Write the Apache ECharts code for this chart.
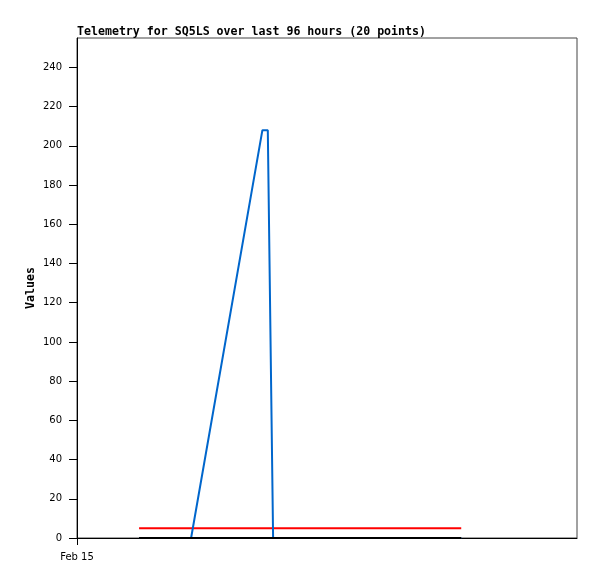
<!DOCTYPE html>
<html>
<head>
<meta charset="utf-8">
<title>Telemetry</title>
<script src="https://cdn.jsdelivr.net/npm/echarts@6/dist/echarts.min.js"></script>
<style>
	html, body { margin: 0; padding: 0; background: #fff; }
	#main { width: 597px; height: 579px; }
</style>
</head>
<body>
<div id="main"></div>
<script>
	// hours since Feb 15 00:00
	var blueHours = [18.5, 34.0, 55.25, 56.86, 58.44, 114.5];
	var blueValues = [0, 0, 208, 208, 0, 0];
	var redHours = [18.5, 114.5];
	var redValues = [5, 5];
	var blackHours = [18.5, 114.5];
	var blackValues = [0, 0];
	var yTicks = [0, 20, 40, 60, 80, 100, 120, 140, 160, 180, 200, 220, 240];
	var xTickHours = [0];
	var xTickLabels = ["Feb 15"];

	function pairs(xs, ys) {
		var out = [];
		for (let i = 0; i < xs.length; i++) {
			out.push([xs[i], ys[i]]);
		}
		return out;
	}

	var option = {
		animation: false,
		title: {
			text: "Telemetry for SQ5LS over last 96 hours (20 points)",
			left: 72,
			top: 21,
			textStyle: {
				fontFamily: "DejaVu Sans Mono",
				fontWeight: "bold",
				fontSize: 11.6,
				color: "#000"
			}
		},
		grid: {
			left: 77,
			right: 20,
			top: 38,
			bottom: 41,
			show: true,
			borderColor: "#444",
			borderWidth: 1,
			backgroundColor: "#fff"
		},
		xAxis: {
			type: "value",
			min: 0,
			max: 149,
			splitLine: { show: false },
			axisLine: { show: true, lineStyle: { color: "#000", width: 1 } },
			axisTick: {
				show: true,
				length: 7,
				customValues: xTickHours,
				lineStyle: { color: "#000" }
			},
			axisLabel: {
				customValues: xTickHours,
				margin: 14,
				fontFamily: "DejaVu Sans",
				fontSize: 10,
				color: "#000",
				formatter: function (v) {
					var i = xTickHours.indexOf(v);
					return i >= 0 ? xTickLabels[i] : "";
				}
			}
		},
		yAxis: {
			type: "value",
			min: 0,
			max: 255,
			interval: 20,
			name: "Values",
			nameLocation: "middle",
			nameRotate: 90,
			nameGap: 40,
			nameMoveOverlap: false,
			nameTextStyle: {
				fontFamily: "DejaVu Sans Mono",
				fontWeight: "bold",
				fontSize: 11.6,
				color: "#000"
			},
			splitLine: { show: false },
			axisLine: { show: true, lineStyle: { color: "#000", width: 1 } },
			axisTick: {
				show: true,
				length: 8,
				customValues: yTicks,
				lineStyle: { color: "#000" }
			},
			axisLabel: {
				customValues: yTicks,
				margin: 15,
				fontFamily: "DejaVu Sans",
				fontSize: 10,
				color: "#000"
			}
		},
		series: [
			{
				name: "red",
				type: "line",
				showSymbol: false,
				data: pairs(redHours, redValues),
				lineStyle: { color: "#ff0000", width: 2 }
			},
			{
				name: "blue",
				type: "line",
				showSymbol: false,
				data: pairs(blueHours, blueValues),
				lineStyle: { color: "#0066cc", width: 2 }
			},
			{
				name: "black",
				type: "line",
				showSymbol: false,
				data: pairs(blackHours, blackValues),
				lineStyle: { color: "#000000", width: 2 }
			}
		]
	};

	var myChart = echarts.init(document.getElementById("main"));
	myChart.setOption(option);
</script>
</body>
</html>
